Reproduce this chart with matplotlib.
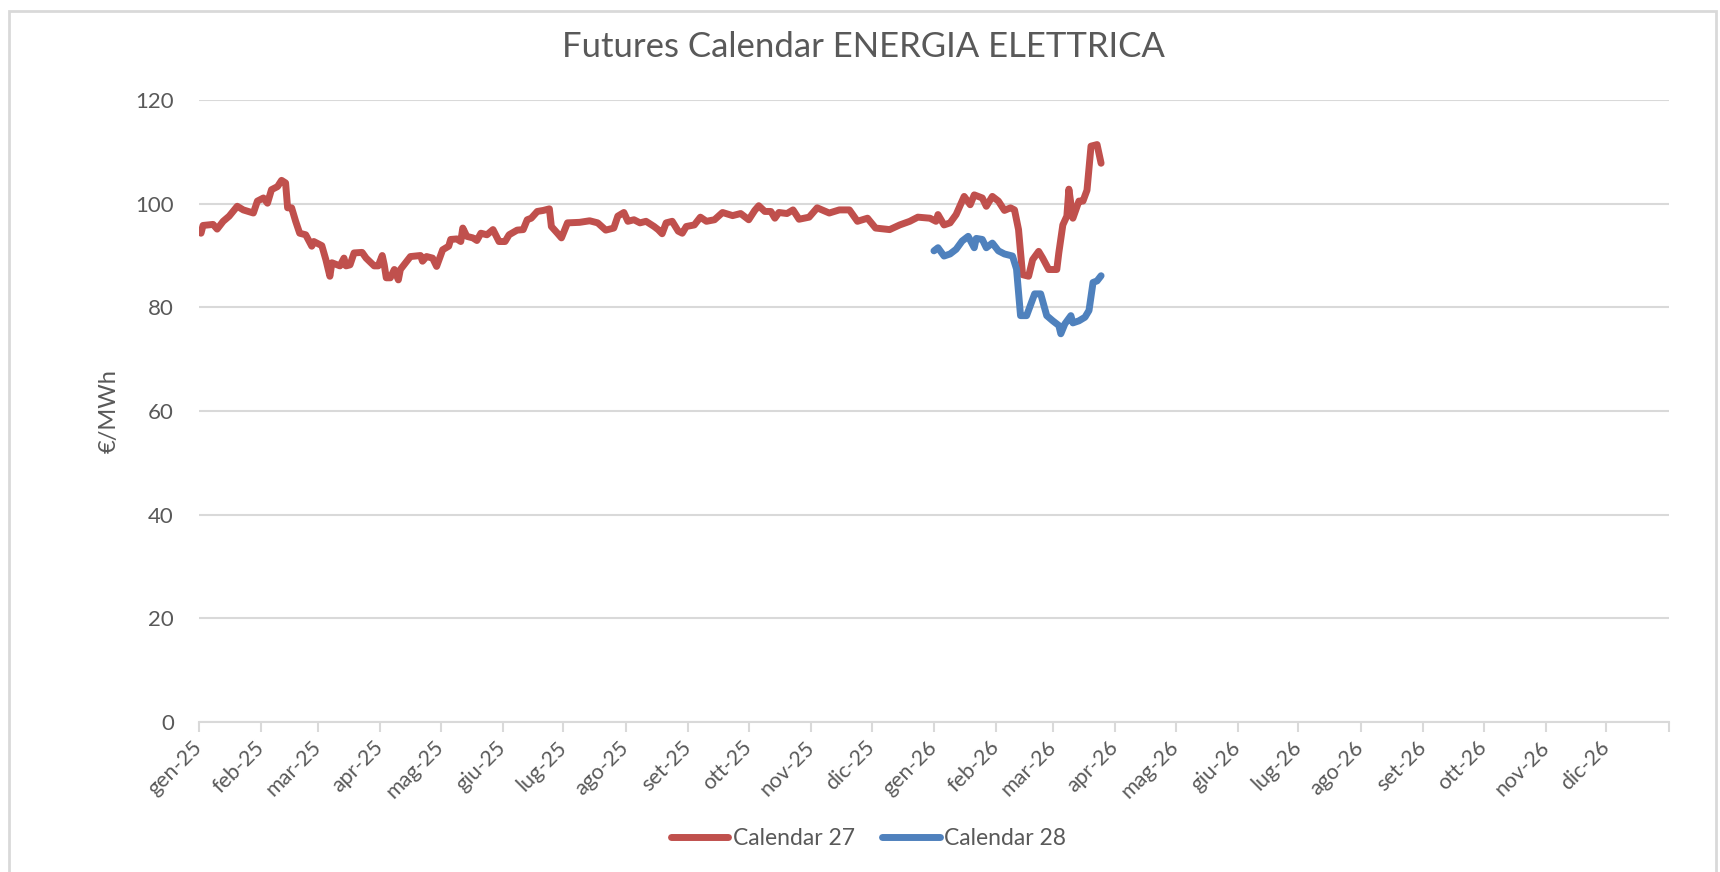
import matplotlib
matplotlib.use("Agg")
import matplotlib.pyplot as plt
from matplotlib.patches import Rectangle
import pandas as pd

plt.rcParams['font.family'] = ['Lato', 'DejaVu Sans']

# giorni dal 1 gen 2025 e prezzi (€/MWh)
giorni_cal27 = [1, 2, 7, 9, 12, 15, 19, 22, 27, 29, 32, 34, 36, 39, 41, 43, 44, 46, 48, 50,
                53, 56, 57, 61, 63, 65, 66, 70, 72, 73, 75, 77, 81, 83, 87, 89, 91, 92, 93, 95,
                97, 99, 100, 105, 110, 111, 113, 116, 118, 121, 124, 125, 128, 130, 131, 133, 136, 138, 140, 143,
                146, 149, 152, 154, 158, 161, 163, 165, 168, 171, 174, 175, 178, 180, 183, 189, 194, 198, 202, 206,
                208, 211, 213, 216, 219, 222, 226, 228, 230, 232, 235, 238, 240, 242, 246, 249, 252, 256, 260, 265,
                269, 273, 276, 278, 281, 284, 286, 288, 292, 295, 298, 303, 307, 313, 318, 323, 327, 332, 336, 343,
                348, 353, 357, 363, 366, 367, 370, 373, 376, 380, 383, 385, 389, 391, 394, 397, 400, 403, 405, 407,
                409, 412, 414, 417, 419, 422, 426, 427, 429, 431, 432, 434, 437, 439, 441, 443, 446, 448]
prezzi_cal27 = [94.3, 95.8, 96.0, 95.1, 96.6, 97.6, 99.5, 98.8, 98.2, 100.5, 101.1, 100.1, 102.7, 103.3, 104.5, 104.0, 99.2, 99.2, 96.6, 94.3,
                94.0, 91.8, 92.7, 91.9, 89.2, 86.0, 88.6, 88.0, 89.5, 88.0, 88.2, 90.5, 90.6, 89.5, 88.0, 88.0, 90.0, 88.2, 85.7, 85.7,
                87.3, 85.3, 87.3, 89.8, 90.0, 88.9, 89.8, 89.5, 87.9, 91.1, 91.8, 93.1, 93.2, 92.7, 95.3, 93.7, 93.4, 92.9, 94.3, 94.0,
                95.0, 92.7, 92.7, 94.0, 94.9, 95.0, 96.9, 97.2, 98.5, 98.7, 99.0, 95.6, 94.3, 93.4, 96.3, 96.4, 96.7, 96.3, 94.9, 95.3,
                97.6, 98.3, 96.6, 96.9, 96.3, 96.6, 95.6, 95.0, 94.2, 96.3, 96.6, 94.7, 94.3, 95.6, 95.9, 97.4, 96.6, 96.9, 98.3, 97.7,
                98.1, 96.9, 98.7, 99.6, 98.5, 98.5, 97.2, 98.3, 98.1, 98.8, 97.0, 97.4, 99.2, 98.2, 98.8, 98.8, 96.6, 97.2, 95.3, 95.0,
                95.9, 96.6, 97.4, 97.2, 96.6, 97.9, 95.9, 96.3, 97.9, 101.4, 99.8, 101.7, 101.1, 99.5, 101.4, 100.5, 98.7, 99.2, 98.8, 95.0,
                86.3, 86.0, 89.2, 90.8, 89.5, 87.3, 87.3, 90.5, 95.9, 97.6, 102.8, 97.2, 100.5, 100.5, 102.6, 111.1, 111.4, 107.8]

giorni_cal28 = [365, 367, 370, 373, 376, 379, 382, 385, 386, 389, 391, 394, 397, 400, 404, 406, 408, 411, 415, 418,
                421, 424, 427, 428, 430, 433, 434, 437, 440, 442, 444, 446, 448]
prezzi_cal28 = [90.9, 91.5, 89.9, 90.3, 91.2, 92.8, 93.7, 91.5, 93.3, 93.1, 91.5, 92.4, 90.9, 90.3, 89.9, 87.4, 78.4, 78.4, 82.6, 82.6,
                78.4, 77.4, 76.5, 74.9, 76.8, 78.4, 77.0, 77.4, 78.1, 79.4, 84.8, 85.1, 86.1]

mesi = ["gen", "feb", "mar", "apr", "mag", "giu", "lug", "ago", "set", "ott", "nov", "dic"]

inizio = pd.Timestamp("2025-01-01")
date27 = inizio + pd.to_timedelta(giorni_cal27, unit="D")
date28 = inizio + pd.to_timedelta(giorni_cal28, unit="D")

grigio = "#595959"
griglia = "#d9d9d9"

fig = plt.figure(figsize=(17.2, 8.72), dpi=100)
ax = fig.add_axes([0.1157, 0.172, 0.9703 - 0.1157, 0.8853 - 0.172])

ax.plot(date27, prezzi_cal27, color="#c0504d", lw=5, label="Calendar 27",
        solid_joinstyle="round", solid_capstyle="round")
ax.plot(date28, prezzi_cal28, color="#4f81bd", lw=5, label="Calendar 28",
        solid_joinstyle="round", solid_capstyle="round")

ax.set_ylim(0, 120)
ax.set_yticks(range(0, 121, 20))
ax.set_xlim(pd.Timestamp("2025-01-01"), pd.Timestamp("2027-01-01"))

tick_date = pd.date_range("2025-01-01", "2027-01-01", freq="MS")
etichette = [f"{mesi[d.month - 1]}-{d.year % 100}" for d in tick_date[:-1]] + [""]
ax.set_xticks(tick_date)
ax.set_xticklabels(etichette, rotation=45, ha="right", va="center", rotation_mode="anchor")

ax.grid(axis="y", color=griglia, lw=1.5)
ax.set_axisbelow(True)
for s in ["top", "right", "left"]:
    ax.spines[s].set_visible(False)
ax.spines["bottom"].set_color(griglia)
ax.spines["bottom"].set_linewidth(1.5)
ax.tick_params(axis="x", colors=griglia, length=7, width=1.5, labelcolor=grigio, labelsize=15.5, pad=9)
ax.tick_params(axis="y", length=0, labelcolor=grigio, labelsize=16, pad=18)

ax.set_ylabel("€/MWh", color=grigio, fontsize=17)
ax.yaxis.set_label_coords(-0.054, 0.5)
fig.text(0.502, 0.946, "Futures Calendar ENERGIA ELETTRICA", ha="center", va="center",
         color=grigio, fontsize=25)

fig.legend(loc="center", bbox_to_anchor=(0.505, 0.038), ncol=2, frameon=False,
           fontsize=16.5, labelcolor=grigio, handlelength=2.5, handletextpad=0.2, columnspacing=1.2)

fig.patches.append(Rectangle((9 / 1720, -0.05), (1716 - 9) / 1720, 1.05 - 11 / 872,
                             transform=fig.transFigure, fill=False, edgecolor=griglia, lw=2))

fig.savefig("out.png", dpi=100)
